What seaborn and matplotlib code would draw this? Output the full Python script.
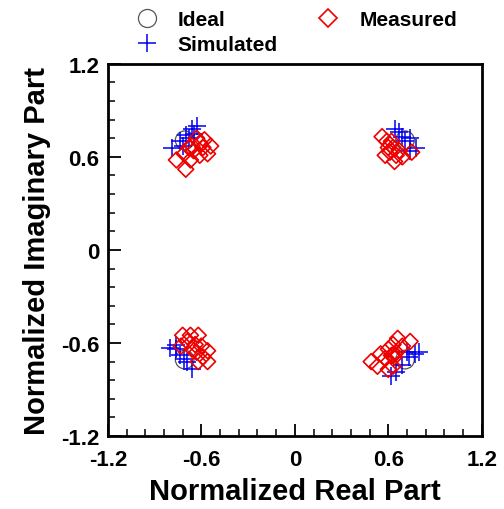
import matplotlib
matplotlib.use("Agg")
import matplotlib.pyplot as plt
import seaborn as sns
import pandas as pd
from matplotlib.lines import Line2D
from matplotlib.ticker import MultipleLocator, FuncFormatter

sns.set_style("white")
plt.rcParams['font.family'] = ['Liberation Sans', 'DejaVu Sans']
plt.rcParams['font.weight'] = 'bold'
for k in ['text.color', 'axes.labelcolor', 'xtick.color', 'ytick.color']:
    plt.rcParams[k] = 'black'

# Ideal constellation points
ideal_x = [-0.707, 0.707, -0.707, 0.707]
ideal_y = [0.707, 0.707, -0.707, -0.707]

# Simulated points
sim_x = [-0.79, -0.74, -0.70, -0.66, -0.63, -0.68, -0.72, -0.65,
         0.64, 0.67, 0.74, 0.78, 0.71, 0.74, 0.69,
         -0.80, -0.76, -0.74, -0.69, -0.66, -0.76, -0.71,
         0.77, 0.73, 0.69, 0.65, 0.62, 0.72, 0.80]
sim_y = [0.66, 0.70, 0.74, 0.78, 0.80, 0.72, 0.67, 0.75,
         0.78, 0.76, 0.72, 0.66, 0.70, 0.64, 0.73,
         -0.63, -0.64, -0.68, -0.72, -0.77, -0.61, -0.70,
         -0.67, -0.69, -0.74, -0.79, -0.81, -0.66, -0.66]

# Measured points
meas_x = [-0.76, -0.71, -0.70, -0.67, -0.65, -0.61, -0.59, -0.56, -0.54, -0.61, -0.66, -0.58, -0.63, -0.68,
          0.56, 0.59, 0.62, 0.61, 0.58, 0.65, 0.64, 0.67, 0.75, 0.63, 0.60, 0.69,
          -0.72, -0.67, -0.62, -0.69, -0.64, -0.60, -0.56, -0.63, -0.59, -0.56, -0.62, -0.73, -0.66,
          0.49, 0.53, 0.55, 0.58, 0.60, 0.63, 0.66, 0.74, 0.63, 0.60, 0.65, 0.69, 0.64, 0.63, 0.64, 0.62]
meas_y = [0.58, 0.62, 0.52, 0.58, 0.64, 0.61, 0.66, 0.62, 0.67, 0.69, 0.67, 0.71, 0.72, 0.66,
          0.73, 0.70, 0.70, 0.63, 0.61, 0.61, 0.57, 0.64, 0.63, 0.66, 0.66, 0.60,
          -0.55, -0.55, -0.55, -0.59, -0.61, -0.62, -0.65, -0.66, -0.69, -0.72, -0.72, -0.62, -0.64,
          -0.72, -0.75, -0.67, -0.70, -0.64, -0.61, -0.57, -0.59, -0.75, -0.77, -0.66, -0.62, -0.69, -0.68, -0.67, -0.68]

df_ideal = pd.DataFrame({"x": ideal_x, "y": ideal_y})
df_sim = pd.DataFrame({"x": sim_x, "y": sim_y})
df_meas = pd.DataFrame({"x": meas_x, "y": meas_y})

fig = plt.figure(figsize=(5.04, 5.10), dpi=100)
ax = fig.add_axes([0.214, 0.143, 0.742, 0.730])

sns.scatterplot(data=df_ideal, x="x", y="y", ax=ax, marker="o", s=180,
                facecolor="none", edgecolor="#555555", linewidth=0.9, zorder=2)
sns.scatterplot(data=df_sim, x="x", y="y", ax=ax, marker="+", s=150,
                color="#0000ee", linewidth=1.1, zorder=3)
sns.scatterplot(data=df_meas, x="x", y="y", ax=ax, marker="D", s=65,
                facecolor="none", edgecolor="#ee0000", linewidth=1.2, zorder=4)

ax.set_xlim(-1.2, 1.2)
ax.set_ylim(-1.2, 1.2)
ax.xaxis.set_major_locator(MultipleLocator(0.6))
ax.yaxis.set_major_locator(MultipleLocator(0.6))
ax.xaxis.set_minor_locator(MultipleLocator(0.12))
ax.yaxis.set_minor_locator(MultipleLocator(0.12))
fmt = lambda v, p: "0" if abs(v) < 1e-9 else f"{v:.1f}"
ax.xaxis.set_major_formatter(FuncFormatter(fmt))
ax.yaxis.set_major_formatter(FuncFormatter(fmt))
ax.tick_params(which="major", direction="in", length=9, width=1.3, labelsize=16,
               bottom=True, left=True, top=False, right=False)
ax.tick_params(axis="x", which="major", pad=9)
ax.tick_params(axis="y", which="major", pad=6)
ax.tick_params(which="minor", direction="in", length=5, width=1.1,
               bottom=True, left=True, top=False, right=False)
for lab in ax.get_xticklabels() + ax.get_yticklabels():
    lab.set_fontweight("bold")
for sp in ax.spines.values():
    sp.set_linewidth(2)
    sp.set_color("black")

ax.set_xlabel("Normalized Real Part", fontsize=21, fontweight="bold", labelpad=5)
ax.set_ylabel("Normalized Imaginary Part", fontsize=21, fontweight="bold", labelpad=7)

handles = [
    Line2D([], [], marker="o", ls="none", mfc="none", mec="#555555", ms=13, mew=0.9),
    Line2D([], [], marker="+", ls="none", color="#0000ee", ms=13, mew=1.1),
    Line2D([], [], marker="D", ls="none", mfc="none", mec="#ee0000", ms=9, mew=1.2),
]
labels = ["Ideal", "Simulated", "Measured"]
fig.legend(handles, labels, ncol=2, loc="upper left", bbox_to_anchor=(0.229, 1.015),
           frameon=False, prop={"size": 15, "weight": "bold"}, handletextpad=0.9,
           columnspacing=1.82, labelspacing=0.3, handlelength=1.2)

fig.savefig("out.png", dpi=100)
